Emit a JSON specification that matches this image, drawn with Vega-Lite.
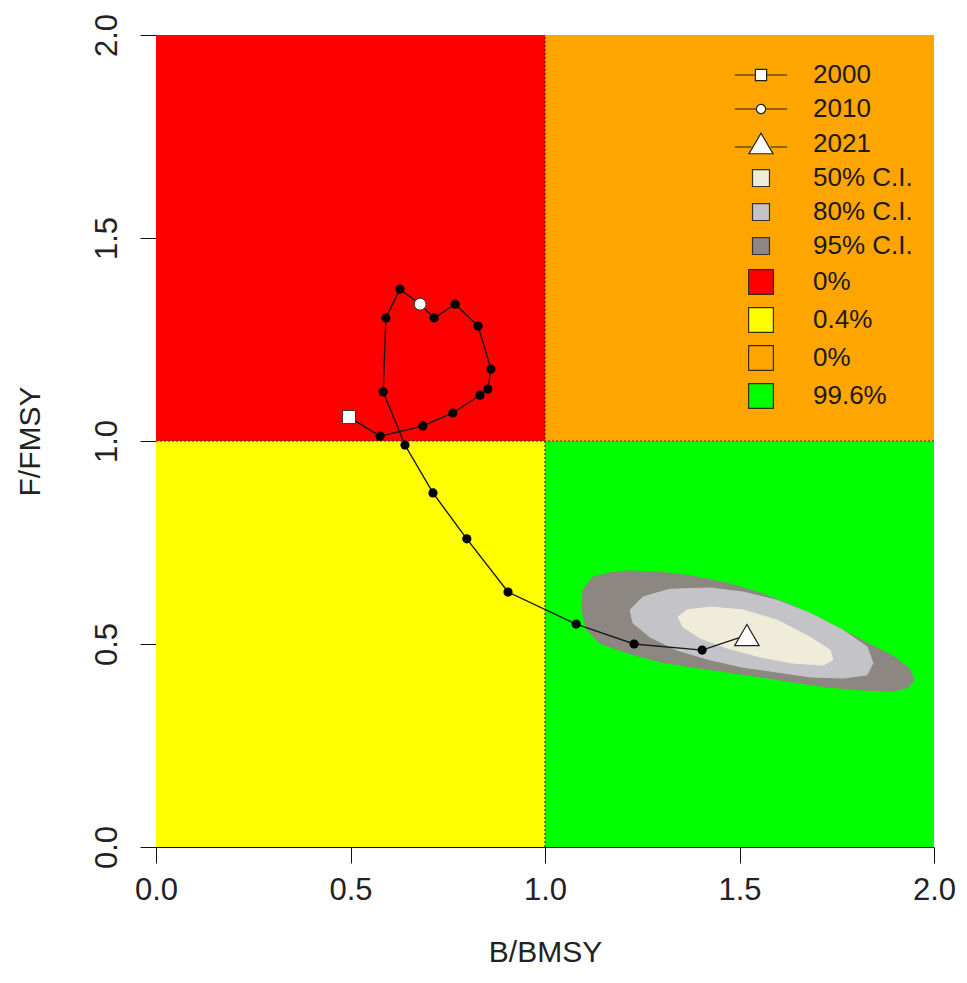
{
  "$schema": "https://vega.github.io/schema/vega-lite/v6.json",
  "width": 778,
  "height": 812,
  "autosize": "none",
  "padding": {"left": 156, "top": 35, "right": 33, "bottom": 136},
  "background": "white",
  "config": {
    "view": {"stroke": null},
    "font": "Liberation Sans",
    "axis": {
      "grid": false,
      "domainColor": "#111",
      "domainWidth": 1,
      "tickColor": "#111",
      "tickWidth": 1,
      "tickSize": 16,
      "labelFontSize": 31,
      "labelColor": "#222",
      "labelFlush": false,
      "labelOverlap": false,
      "titleFontSize": 30,
      "titleFontWeight": "normal",
      "titleColor": "#222"
    }
  },
  "datasets": {
    "quadrants": [
      {"key": "0%", "x1": 0, "x2": 1, "y1": 1, "y2": 2},
      {"key": "0% ", "x1": 1, "x2": 2, "y1": 1, "y2": 2},
      {"key": "0.4%", "x1": 0, "x2": 1, "y1": 0, "y2": 1},
      {"key": "99.6%", "x1": 1, "x2": 2, "y1": 0, "y2": 1}
    ],
    "ci95": [
      {"i": 1, "x": 1.095, "y": 0.584}, {"i": 2, "x": 1.098, "y": 0.633}, {"i": 3, "x": 1.123, "y": 0.665},
      {"i": 4, "x": 1.167, "y": 0.675}, {"i": 5, "x": 1.211, "y": 0.680}, {"i": 6, "x": 1.296, "y": 0.677},
      {"i": 7, "x": 1.380, "y": 0.667}, {"i": 8, "x": 1.468, "y": 0.650}, {"i": 9, "x": 1.553, "y": 0.626},
      {"i": 10, "x": 1.638, "y": 0.594}, {"i": 11, "x": 1.725, "y": 0.554}, {"i": 12, "x": 1.810, "y": 0.512},
      {"i": 13, "x": 1.895, "y": 0.470}, {"i": 14, "x": 1.938, "y": 0.438}, {"i": 15, "x": 1.949, "y": 0.411},
      {"i": 16, "x": 1.931, "y": 0.392}, {"i": 17, "x": 1.895, "y": 0.384}, {"i": 18, "x": 1.810, "y": 0.387},
      {"i": 19, "x": 1.725, "y": 0.394}, {"i": 20, "x": 1.638, "y": 0.406}, {"i": 21, "x": 1.553, "y": 0.419},
      {"i": 22, "x": 1.468, "y": 0.431}, {"i": 23, "x": 1.380, "y": 0.443}, {"i": 24, "x": 1.296, "y": 0.456},
      {"i": 25, "x": 1.211, "y": 0.478}, {"i": 26, "x": 1.141, "y": 0.502}, {"i": 27, "x": 1.108, "y": 0.534},
      {"i": 28, "x": 1.095, "y": 0.584}
    ],
    "ci80": [
      {"i": 1, "x": 1.219, "y": 0.584}, {"i": 2, "x": 1.252, "y": 0.616}, {"i": 3, "x": 1.321, "y": 0.635},
      {"i": 4, "x": 1.424, "y": 0.638}, {"i": 5, "x": 1.509, "y": 0.628}, {"i": 6, "x": 1.596, "y": 0.608},
      {"i": 7, "x": 1.681, "y": 0.576}, {"i": 8, "x": 1.766, "y": 0.534}, {"i": 9, "x": 1.828, "y": 0.493},
      {"i": 10, "x": 1.843, "y": 0.453}, {"i": 11, "x": 1.828, "y": 0.424}, {"i": 12, "x": 1.766, "y": 0.416},
      {"i": 13, "x": 1.681, "y": 0.419}, {"i": 14, "x": 1.596, "y": 0.431}, {"i": 15, "x": 1.509, "y": 0.443},
      {"i": 16, "x": 1.424, "y": 0.461}, {"i": 17, "x": 1.339, "y": 0.485}, {"i": 18, "x": 1.270, "y": 0.517},
      {"i": 19, "x": 1.226, "y": 0.552}, {"i": 20, "x": 1.219, "y": 0.584}
    ],
    "ci50": [
      {"i": 1, "x": 1.342, "y": 0.567}, {"i": 2, "x": 1.365, "y": 0.584}, {"i": 3, "x": 1.424, "y": 0.591},
      {"i": 4, "x": 1.509, "y": 0.584}, {"i": 5, "x": 1.596, "y": 0.559}, {"i": 6, "x": 1.681, "y": 0.517},
      {"i": 7, "x": 1.733, "y": 0.485}, {"i": 8, "x": 1.740, "y": 0.461}, {"i": 9, "x": 1.715, "y": 0.448},
      {"i": 10, "x": 1.638, "y": 0.453}, {"i": 11, "x": 1.553, "y": 0.468}, {"i": 12, "x": 1.468, "y": 0.490},
      {"i": 13, "x": 1.398, "y": 0.515}, {"i": 14, "x": 1.355, "y": 0.542}, {"i": 15, "x": 1.342, "y": 0.567}
    ],
    "refs": [
      {"x1": 1, "y1": 0, "x2": 1, "y2": 2},
      {"x1": 0, "y1": 1, "x2": 2, "y2": 1}
    ],
    "traj": [
      {"year": 2000, "b": 0.496, "f": 1.059},
      {"year": 2001, "b": 0.576, "f": 1.012},
      {"year": 2002, "b": 0.686, "f": 1.037},
      {"year": 2003, "b": 0.763, "f": 1.069},
      {"year": 2004, "b": 0.833, "f": 1.113},
      {"year": 2005, "b": 0.853, "f": 1.128},
      {"year": 2006, "b": 0.861, "f": 1.177},
      {"year": 2007, "b": 0.828, "f": 1.283},
      {"year": 2008, "b": 0.769, "f": 1.337},
      {"year": 2009, "b": 0.715, "f": 1.303},
      {"year": 2010, "b": 0.679, "f": 1.337},
      {"year": 2011, "b": 0.627, "f": 1.374},
      {"year": 2012, "b": 0.591, "f": 1.303},
      {"year": 2013, "b": 0.584, "f": 1.121},
      {"year": 2014, "b": 0.640, "f": 0.990},
      {"year": 2015, "b": 0.712, "f": 0.872},
      {"year": 2016, "b": 0.799, "f": 0.759},
      {"year": 2017, "b": 0.905, "f": 0.628},
      {"year": 2018, "b": 1.080, "f": 0.549},
      {"year": 2019, "b": 1.229, "f": 0.500},
      {"year": 2020, "b": 1.404, "f": 0.485},
      {"year": 2021, "b": 1.519, "f": 0.522}
    ],
    "legend": [
      {"key": "2000"}, {"key": "2010"}, {"key": "2021"},
      {"key": "50% C.I."}, {"key": "80% C.I."}, {"key": "95% C.I."},
      {"key": "0%"}, {"key": "0.4%"}, {"key": "0% "}, {"key": "99.6%"}
    ]
  },
  "layer": [
    {
      "data": {"name": "quadrants"},
      "mark": {"type": "rect"},
      "encoding": {
        "x": {
          "field": "x1", "type": "quantitative",
          "scale": {"domain": [0, 2], "nice": false, "zero": false},
          "axis": {"values": [0, 0.5, 1, 1.5, 2], "format": ".1f", "title": "B/BMSY", "labelPadding": 12, "titlePadding": 32}
        },
        "x2": {"field": "x2"},
        "y": {
          "field": "y1", "type": "quantitative",
          "scale": {"domain": [0, 2], "nice": false, "zero": false},
          "axis": {"values": [0, 0.5, 1, 1.5, 2], "format": ".1f", "title": "F/FMSY", "labelAngle": -90, "labelAlign": "center", "labelBaseline": "bottom", "labelPadding": 17, "titlePadding": 46}
        },
        "y2": {"field": "y2"},
        "fill": {
          "field": "key", "type": "nominal",
          "scale": {
            "domain": ["2000", "2010", "2021", "50% C.I.", "80% C.I.", "95% C.I.", "0%", "0.4%", "0% ", "99.6%"],
            "range": ["#FFFFFF", "#FFFFFF", "#FFFFFF", "#F0ECDA", "#C4C4C8", "#8C8780", "#FF0000", "#FFFF00", "#FFA500", "#00FF00"]
          },
          "legend": {
            "orient": "none", "legendX": 592, "legendY": 27, "title": null,
            "labelFontSize": 26, "labelColor": "#1a1a1a", "labelOffset": 39,
            "symbolSize": 225, "symbolStrokeColor": "#222", "symbolStrokeWidth": 1.2,
            "rowPadding": 8, "padding": 0, "symbolOpacity": 1
          }
        }
      }
    },
    {
      "data": {"name": "ci95"},
      "mark": {"type": "line", "fill": "#8C8780", "stroke": "#8C8780", "strokeWidth": 1},
      "encoding": {
        "x": {"field": "x", "type": "quantitative"},
        "y": {"field": "y", "type": "quantitative"},
        "order": {"field": "i", "type": "quantitative"}
      }
    },
    {
      "data": {"name": "ci80"},
      "mark": {"type": "line", "fill": "#C4C4C8", "stroke": "#C4C4C8", "strokeWidth": 1},
      "encoding": {
        "x": {"field": "x", "type": "quantitative"},
        "y": {"field": "y", "type": "quantitative"},
        "order": {"field": "i", "type": "quantitative"}
      }
    },
    {
      "data": {"name": "ci50"},
      "mark": {"type": "line", "fill": "#F0ECDA", "stroke": "#F0ECDA", "strokeWidth": 1},
      "encoding": {
        "x": {"field": "x", "type": "quantitative"},
        "y": {"field": "y", "type": "quantitative"},
        "order": {"field": "i", "type": "quantitative"}
      }
    },
    {
      "data": {"name": "refs"},
      "mark": {"type": "rule", "color": "#333", "strokeWidth": 1.2, "strokeDash": [2, 2]},
      "encoding": {
        "x": {"field": "x1", "type": "quantitative"},
        "y": {"field": "y1", "type": "quantitative"},
        "x2": {"field": "x2"},
        "y2": {"field": "y2"}
      }
    },
    {
      "data": {"name": "traj"},
      "mark": {"type": "line", "color": "#1a1a1a", "strokeWidth": 1.4},
      "encoding": {
        "x": {"field": "b", "type": "quantitative"},
        "y": {"field": "f", "type": "quantitative"},
        "order": {"field": "year", "type": "quantitative"}
      }
    },
    {
      "data": {"name": "traj"},
      "transform": [{"filter": "datum.year != 2000 && datum.year != 2010 && datum.year != 2021"}],
      "mark": {"type": "point", "shape": "circle", "filled": true, "color": "#000", "size": 85, "opacity": 1},
      "encoding": {
        "x": {"field": "b", "type": "quantitative"},
        "y": {"field": "f", "type": "quantitative"}
      }
    },
    {
      "data": {"name": "traj"},
      "transform": [{"filter": "datum.year == 2000"}],
      "mark": {"type": "point", "shape": "square", "filled": true, "fill": "#FFFFFF", "stroke": "#333", "strokeWidth": 1, "size": 170, "opacity": 1},
      "encoding": {
        "x": {"field": "b", "type": "quantitative"},
        "y": {"field": "f", "type": "quantitative"}
      }
    },
    {
      "data": {"name": "traj"},
      "transform": [{"filter": "datum.year == 2010"}],
      "mark": {"type": "point", "shape": "circle", "filled": true, "fill": "#FFFFFF", "stroke": "#333", "strokeWidth": 1, "size": 140, "opacity": 1},
      "encoding": {
        "x": {"field": "b", "type": "quantitative"},
        "y": {"field": "f", "type": "quantitative"}
      }
    },
    {
      "data": {"name": "traj"},
      "transform": [{"filter": "datum.year == 2021"}],
      "mark": {"type": "point", "shape": "triangle-up", "filled": true, "fill": "#FFFFFF", "stroke": "#222", "strokeWidth": 1.2, "size": 600, "opacity": 1},
      "encoding": {
        "x": {"field": "b", "type": "quantitative"},
        "y": {"field": "f", "type": "quantitative"}
      }
    },
    {
      "data": {"name": "legend"},
      "mark": {"type": "point", "filled": true, "fillOpacity": 0, "strokeOpacity": 0},
      "encoding": {
        "fill": {"field": "key", "type": "nominal"},
        "stroke": {
          "field": "key", "type": "nominal",
          "scale": {
            "domain": ["2000", "2010", "2021", "50% C.I.", "80% C.I.", "95% C.I.", "0%", "0.4%", "0% ", "99.6%"],
            "range": ["#222", "#222", "#222", "#333", "#333", "#333", "#3a2a10", "#3a2a10", "#3a2a10", "#3a2a10"]
          }
        },
        "shape": {
          "field": "key", "type": "nominal",
          "scale": {
            "domain": ["2000", "2010", "2021", "50% C.I.", "80% C.I.", "95% C.I.", "0%", "0.4%", "0% ", "99.6%"],
            "range": [
              "M-3.5,0H-0.75M0.75,0H3.5M-0.75,-0.75H0.75V0.75H-0.75Z",
              "M-3.5,0H-0.62M0.62,0H3.5M-0.62,0A0.62,0.62 0 1,1 0.62,0A0.62,0.62 0 1,1 -0.62,0Z",
              "M-3.5,0.4H-1.3M1.3,0.4H3.5M0,-1.45L1.6,1.3L-1.6,1.3Z",
              "M-1.13,-1.13H1.13V1.13H-1.13Z",
              "M-1.13,-1.13H1.13V1.13H-1.13Z",
              "M-1.13,-1.13H1.13V1.13H-1.13Z",
              "M-1.65,-1.65H1.65V1.65H-1.65Z",
              "M-1.65,-1.65H1.65V1.65H-1.65Z",
              "M-1.65,-1.65H1.65V1.65H-1.65Z",
              "M-1.65,-1.65H1.65V1.65H-1.65Z"
            ]
          },
          "legend": {
            "orient": "none", "legendX": 592, "legendY": 27, "title": null,
            "labelFontSize": 26, "labelColor": "#1a1a1a", "labelOffset": 39,
            "symbolSize": 225, "symbolStrokeWidth": 1.2,
            "rowPadding": 8, "padding": 0, "symbolOpacity": 1
          }
        }
      }
    }
  ]
}
